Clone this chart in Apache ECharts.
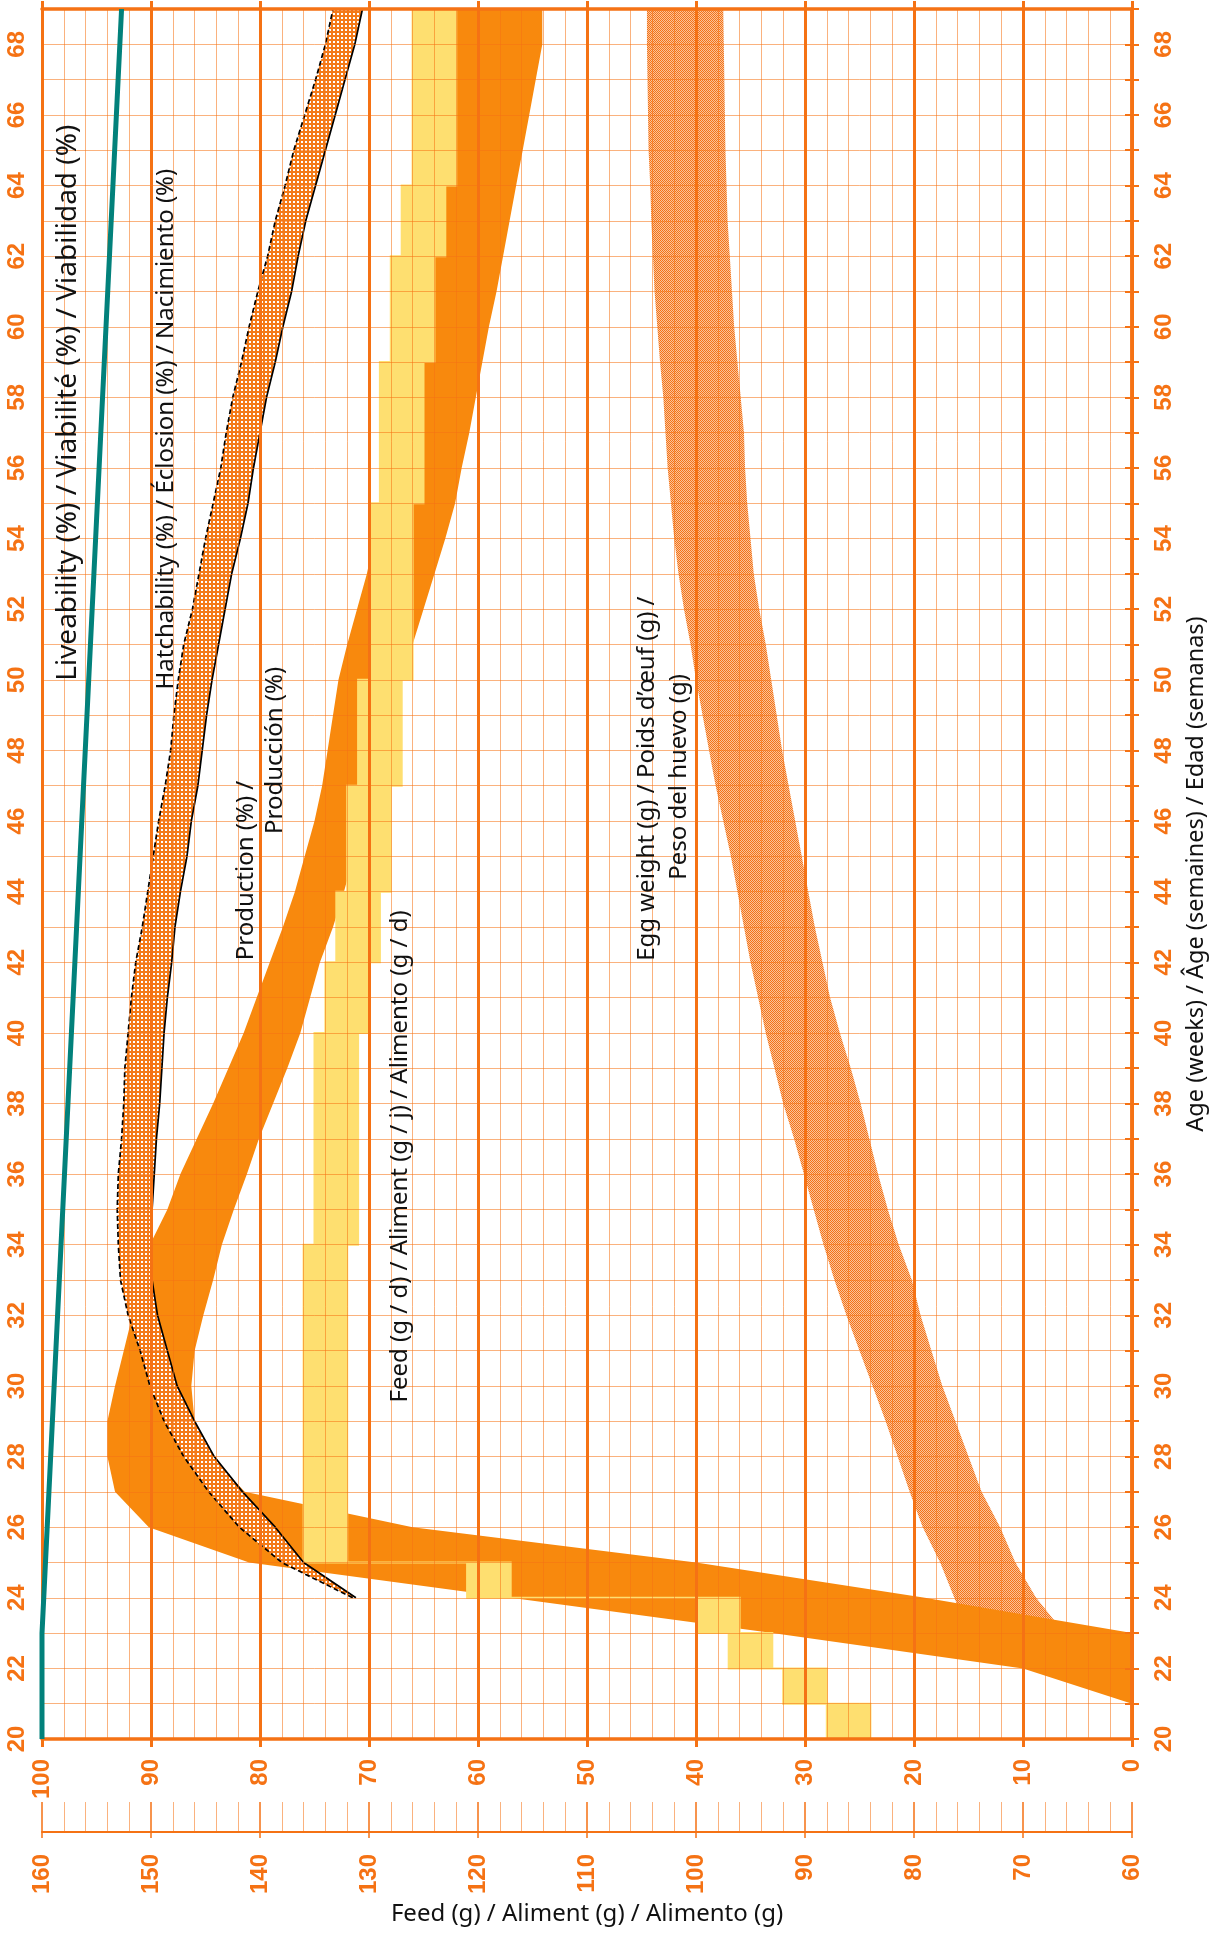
<!DOCTYPE html>
<html>
<head>
<meta charset="utf-8">
<title>Performance chart</title>
<script src="https://cdn.jsdelivr.net/npm/echarts@6/dist/echarts.min.js"></script>
<style>
  html, body { margin: 0; padding: 0; background: #fff; }
  #chart { width: 1213px; height: 1934px; }
</style>
</head>
<body>
<div id="chart"></div>
<script>
// ---- data (x = percent / grams, y = age in weeks) ----
const liveAges = [20, 23, 69];
const liveValues = [100, 100, 92.7];

const hatchAges = [24, 25, 26, 27, 28, 29, 30, 31, 32, 33, 34, 35, 36, 37, 38, 39, 40, 41, 42, 43, 44, 45, 46,
  47, 48, 49, 50, 51, 52, 53, 54, 55, 56, 57, 58, 59, 60, 61, 62, 63, 64, 65, 66, 67, 68, 69];
// dashed upper limit
const hatchHigh = [71.5, 78.0, 81.9, 84.7, 87.0, 88.8, 90.1, 91.0, 92.1, 92.8, 93.0, 93.1, 93.0, 92.7, 92.5, 92.4,
  92.1, 91.8, 91.4, 90.8, 90.3, 89.8, 89.3, 88.7, 88.2, 87.9, 87.5, 87.0, 86.2, 85.6, 85.0, 84.3, 83.6, 83.1,
  82.5, 81.7, 81.0, 80.2, 79.3, 78.6, 77.7, 76.9, 75.9, 74.9, 74.0, 73.3];
// solid lower limit
const hatchLow = [71.2, 76.0, 78.6, 81.6, 84.2, 86.0, 87.6, 88.5, 89.4, 89.9, 90.0, 89.9, 89.7, 89.5, 89.2, 89.0,
  88.8, 88.5, 88.1, 87.8, 87.3, 86.7, 86.3, 85.7, 85.3, 84.9, 84.4, 83.8, 83.2, 82.6, 81.8, 81.1, 80.6, 80.0,
  79.4, 78.6, 77.9, 77.1, 76.5, 75.8, 74.9, 74.0, 73.1, 72.2, 71.3, 70.6];

const prodHighAges = [21, 22, 23, 24, 25, 26, 27, 28, 29, 30, 31, 32, 33, 34, 35, 36, 37, 38, 39, 40, 41, 42, 43,
  44, 45, 46, 47, 48, 49, 50, 51, 52, 53, 54, 55, 56, 57, 58, 59, 60, 61, 62, 63, 64, 65, 66, 67, 68, 69];
const prodHigh = [0, 10, 33, 57, 81, 90.2, 93.3, 94.0, 94.0, 93.3, 92.5, 91.7, 91.0, 90.1, 88.5, 87.3, 85.8, 84.3,
  82.9, 81.5, 80.3, 79.1, 77.9, 76.8, 75.9, 75.0, 74.3, 73.8, 73.3, 72.8, 72.0, 71.1, 70.2, 69.5, 68.8, 68.2,
  67.6, 67.0, 66.5, 66.0, 65.5, 65.0, 64.6, 64.2, 63.8, 63.5, 63.1, 62.8, 62.5];
const prodLowAges = [23, 24, 25, 26, 27, 28, 29, 30, 31, 32, 33, 34, 35, 36, 37, 38, 39, 40, 41, 42, 43, 44, 45,
  46, 47, 48, 49, 50, 51, 52, 53, 54, 55, 56, 57, 58, 59, 60, 61, 62, 63, 64, 65, 66, 67, 68, 69];
const prodLow = [0, 19, 40, 66, 81.4, 84.5, 86.0, 86.3, 86.0, 85.2, 84.3, 83.5, 82.4, 81.2, 80.1, 78.8, 77.5, 76.3,
  75.4, 74.5, 73.3, 72.3, 71.4, 70.6, 69.8, 69.0, 68.0, 67.0, 66.0, 65.0, 64.0, 63.0, 62.1, 61.5, 60.8, 60.2,
  59.6, 59.0, 58.3, 57.7, 57.1, 56.5, 55.9, 55.3, 54.7, 54.1, 54.1];

const eggAges = [23, 24, 25, 26, 27, 28, 29, 30, 31, 32, 33, 34, 35, 36, 37, 38, 39, 40, 41, 42, 43, 44, 45, 46,
  47, 48, 49, 50, 51, 52, 53, 54, 55, 56, 57, 58, 59, 60, 61, 62, 63, 64, 65, 66, 67, 68, 69];
const eggHigh = [15.0, 16.3, 17.6, 19.2, 20.4, 21.5, 22.6, 23.8, 25.0, 26.2, 27.3, 28.3, 29.2, 30.1, 31.0, 32.0,
  32.8, 33.6, 34.3, 35.0, 35.6, 36.2, 36.8, 37.5, 38.2, 38.8, 39.4, 40.0, 40.5, 41.1, 41.6, 42.0, 42.3, 42.6,
  42.8, 43.0, 43.3, 43.55, 43.8, 43.95, 44.1, 44.2, 44.35, 44.4, 44.45, 44.5, 44.5];
const eggLow = [6.2, 8.8, 10.7, 12.1, 13.8, 15.0, 16.2, 17.4, 18.4, 19.4, 20.2, 21.4, 22.4, 23.3, 24.1, 24.9,
  25.8, 26.8, 27.7, 28.4, 29.1, 29.7, 30.3, 30.9, 31.5, 32.1, 32.6, 33.1, 33.6, 34.2, 34.7, 35.0, 35.3, 35.5,
  35.6, 35.9, 36.2, 36.5, 36.7, 36.9, 37.1, 37.2, 37.3, 37.35, 37.4, 37.45, 37.5];

// feed steps (g / bird / day), one step per age range
const feedFrom = [20, 21, 22, 23, 24, 25, 34, 40, 42, 44, 47, 50, 55, 59, 62, 64];
const feedTo   = [21, 22, 23, 24, 25, 34, 40, 42, 44, 47, 50, 55, 59, 62, 64, 69];
const feedMin  = [84, 88, 93, 96, 117, 132, 131, 130, 129, 128, 127, 126, 125, 124, 123, 122];
const feedMax  = [88, 92, 97, 100, 121, 136, 135, 134, 133, 132, 131, 130, 129, 128, 127, 126];

// text inside the plot: [text, x value, age, font size]
const notes = [
  ['Liveability (%) / Viabilité (%) / Viabilidad (%)', 97.6, 57.85, 28],
  ['Hatchability (%) / Éclosion (%) / Nacimiento (%)', 88.6, 57.1, 24],
  ['Production (%) /', 81.3, 44.6, 24],
  ['Producción (%)', 78.6, 48.0, 24],
  ['Feed (g / d) / Aliment (g / j) / Alimento (g / d)', 67.1, 36.5, 24],
  ['Egg weight (g) / Poids d’œuf (g) /', 44.5, 47.2, 24],
  ['Peso del huevo (g)', 41.5, 47.25, 24]
];

// ---- styles ----
const ORANGE = '#f57214';
const MINOR = 'rgba(245,114,20,0.55)';
const TEAL = '#02817b';
const PROD = '#f8890d';
const YELLOW = '#fedf70';
const TEXT_FONT = '"Noto Sans", "Open Sans", sans-serif';
const TICK_FONT = '"Liberation Sans", Arial, sans-serif';

function pattern(w, h, draw) {
  const c = document.createElement('canvas');
  c.width = w;
  c.height = h;
  draw(c.getContext('2d'));
  return { type: 'pattern', image: c, repeat: 'repeat' };
}
// fine dither for the egg weight band
const eggFill = pattern(2, 2, function (ctx) {
  ctx.fillStyle = 'rgba(245,120,30,0.45)';
  ctx.fillRect(0, 0, 2, 2);
  ctx.fillStyle = '#f47418';
  ctx.fillRect(0, 0, 1, 1);
  ctx.fillRect(1, 1, 1, 1);
});
// orange with white dots for hatchability
const hatchFill = pattern(4, 4, function (ctx) {
  ctx.fillStyle = '#f47a18';
  ctx.fillRect(0, 0, 4, 4);
  ctx.fillStyle = '#ffffff';
  ctx.fillRect(1, 1, 2, 2);
});

function pairs(xs, ys) {
  return ys.map((y, i) => [xs[i], y]);
}
// closed outline: first edge upward, second edge back down
function band(ages1, vals1, ages2, vals2) {
  return pairs(vals1, ages1).concat(pairs(vals2, ages2).reverse());
}
function feedOutline() {
  const up = [], down = [];
  for (let i = 0; i < feedFrom.length; i++) {
    up.push([feedMax[i], feedFrom[i]], [feedMax[i], feedTo[i]]);
    down.push([feedMin[i], feedFrom[i]], [feedMin[i], feedTo[i]]);
  }
  return up.concat(down.reverse());
}

function polygonSeries(name, pts, style, z, xIdx) {
  return {
    type: 'custom',
    name: name,
    xAxisIndex: xIdx || 0,
    yAxisIndex: 0,
    z: z,
    silent: true,
    data: [pts[0]],
    renderItem: function (params, api) {
      return {
        type: 'polygon',
        shape: { points: pts.map(p => api.coord(p)) },
        style: style
      };
    }
  };
}

const chart = echarts.init(document.getElementById('chart'));

const tickLabel = {
  color: ORANGE,
  fontWeight: 'bold',
  fontSize: 24,
  fontFamily: TICK_FONT,
  rotate: 90
};

chart.setOption({
  animation: false,
  backgroundColor: '#fff',
  grid: { left: 42, right: 81, top: 9, bottom: 195, containLabel: false, outerBoundsMode: 'none' },
  xAxis: [
    {
      type: 'value', min: 0, max: 100, interval: 10, inverse: true, position: 'bottom', z: 4,
      axisLine: { show: true, lineStyle: { color: ORANGE, width: 3.5 } },
      axisTick: { show: true, inside: false, length: 8, lineStyle: { color: ORANGE, width: 3 } },
      axisLabel: Object.assign({ margin: 20 }, tickLabel),
      splitLine: { show: true, lineStyle: { color: ORANGE, width: 3 } },
      minorTick: { show: false, splitNumber: 5 },
      minorSplitLine: { show: true, lineStyle: { color: MINOR, width: 1 } }
    },
    {
      type: 'value', min: 60, max: 160, interval: 10, inverse: true, position: 'bottom', offset: 93, z: 4,
      axisLine: { show: true, lineStyle: { color: ORANGE, width: 2 } },
      axisTick: { show: true, inside: true, length: 30, lineStyle: { color: ORANGE, width: 1.5 } },
      minorTick: { show: true, splitNumber: 5, length: 30, lineStyle: { color: MINOR, width: 1 } },
      axisLabel: Object.assign({ margin: 22 }, tickLabel),
      splitLine: { show: false },
      name: 'Feed (g) / Aliment (g) / Alimento (g)',
      nameLocation: 'middle',
      nameGap: 68,
      nameTextStyle: { color: '#111', fontSize: 24, fontFamily: TEXT_FONT }
    },
    {
      type: 'value', min: 60, max: 160, interval: 10, inverse: true, position: 'bottom', offset: 93, z: 4,
      axisLine: { show: false },
      axisTick: { show: true, inside: false, length: 6, lineStyle: { color: ORANGE, width: 1.5 } },
      axisLabel: { show: false },
      splitLine: { show: false }
    },
    {
      type: 'value', min: 0, max: 100, interval: 10, inverse: true, position: 'top', z: 4,
      axisLine: { show: true, lineStyle: { color: ORANGE, width: 3.5 } },
      axisTick: { show: true, inside: false, length: 8, lineStyle: { color: ORANGE, width: 3 } },
      axisLabel: { show: false },
      splitLine: { show: false }
    }
  ],
  yAxis: [
    {
      type: 'value', min: 20, max: 69, interval: 1, position: 'left', z: 4,
      axisLine: { show: true, lineStyle: { color: ORANGE, width: 3.5 } },
      axisTick: { show: true, inside: false, length: 7, lineStyle: { color: ORANGE, width: 2 } },
      axisLabel: Object.assign({}, tickLabel, {
        margin: 13,
        formatter: v => (v % 2 === 0 && v < 69 ? String(v) : '')
      }),
      splitLine: { show: true, lineStyle: { color: MINOR, width: 1 } }
    },
    {
      type: 'value', min: 20, max: 69, interval: 1, position: 'right', z: 4,
      axisLine: { show: true, lineStyle: { color: ORANGE, width: 3.5 } },
      axisTick: { show: true, inside: false, length: 7, lineStyle: { color: ORANGE, width: 2 } },
      axisLabel: Object.assign({}, tickLabel, {
        margin: 20,
        formatter: v => (v % 2 === 0 && v < 69 ? String(v) : '')
      }),
      splitLine: { show: false },
      name: 'Age (weeks) / Âge (semaines) / Edad (semanas)',
      nameLocation: 'middle',
      nameRotate: 90,
      nameGap: 50,
      nameTextStyle: { color: '#111', fontSize: 23.5, fontFamily: TEXT_FONT }
    }
  ],
  series: [
    polygonSeries('Egg weight', band(eggAges, eggHigh, eggAges, eggLow), { fill: eggFill }, 1),
    polygonSeries('Production', band(prodHighAges, prodHigh, prodLowAges, prodLow), { fill: PROD }, 2),
    polygonSeries('Feed', feedOutline(), { fill: YELLOW, stroke: YELLOW, lineWidth: 2 }, 2.5, 1),
    polygonSeries('Hatchability', band(hatchAges, hatchHigh, hatchAges, hatchLow), { fill: hatchFill }, 3),
    {
      type: 'line', name: 'Hatchability high', z: 3.2, silent: true,
      data: pairs(hatchHigh, hatchAges), showSymbol: false,
      lineStyle: { color: '#000', width: 1.7, type: [5, 3] }
    },
    {
      type: 'line', name: 'Hatchability low', z: 3.2, silent: true,
      data: pairs(hatchLow, hatchAges), showSymbol: false,
      lineStyle: { color: '#000', width: 1.7 }
    },
    {
      type: 'line', name: 'Liveability', z: 6, silent: true,
      data: pairs(liveValues, liveAges), showSymbol: false,
      lineStyle: { color: TEAL, width: 5 }
    },
    {
      type: 'custom', name: 'notes', z: 7, silent: true,
      data: notes.map(n => [n[1], n[2]]),
      renderItem: function (params, api) {
        const note = notes[params.dataIndex];
        const pt = api.coord([api.value(0), api.value(1)]);
        return {
          type: 'text',
          x: pt[0],
          y: pt[1],
          rotation: Math.PI / 2,
          style: {
            text: note[0],
            fill: '#111',
            fontSize: note[3],
            fontFamily: TEXT_FONT,
            textAlign: 'center',
            textVerticalAlign: 'middle'
          }
        };
      }
    }
  ]
});
</script>
</body>
</html>
